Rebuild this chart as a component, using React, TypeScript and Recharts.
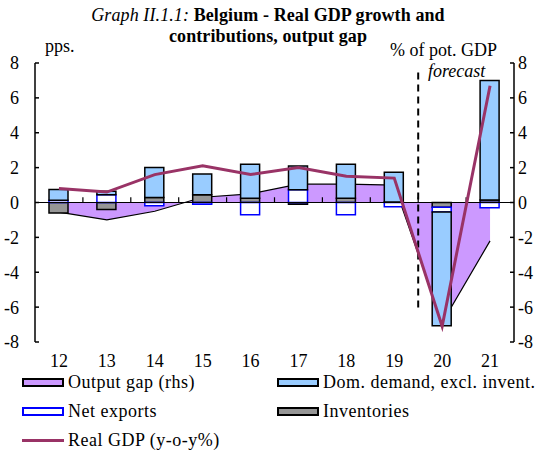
import { ComposedChart, Bar, Line, Area, XAxis, YAxis, ReferenceLine } from 'recharts';

const years = [12, 13, 14, 15, 16, 17, 18, 19, 20, 21];
const domDemand = [0.62, 0.2, 1.72, 1.19, 1.95, 1.37, 1.95, 1.7, -6.52, 6.85];
const inventories = [-0.6, -0.4, 0.29, 0.44, 0.25, -0.1, 0.25, 0.03, -0.27, 0.15];
const netExports = [0.13, 0.45, -0.19, -0.1, -0.7, 0.73, -0.7, -0.25, -0.28, -0.3];
const realGdp = [0.8, 0.6, 1.6, 2.1, 1.6, 2.0, 1.5, 1.4, -7.1, 6.7];
const outputGap = [-0.55, -1.0, -0.5, 0.3, 0.5, 1.05, 1.05, 1.0, -6.9, -2.2];
const yTicks = [-8, -6, -4, -2, 0, 2, 4, 6, 8];
const boundaries = [12.5, 13.5, 14.5, 15.5, 16.5, 17.5, 18.5, 19.5, 20.5];

const FONT = '"Liberation Serif", "Times New Roman", serif';

const data = years.map((y, i) => ({
  year: y,
  domDemand: domDemand[i],
  inventories: inventories[i],
  netExports: netExports[i],
  realGdp: realGdp[i],
  outputGap: outputGap[i],
}));

function Swatch({ fill, stroke }: { fill: string; stroke: string }) {
  return (
    <span style={{ display: 'inline-block', width: 38, height: 5, background: fill, border: `2px solid ${stroke}`, marginRight: 4, verticalAlign: 'middle' }} />
  );
}

export default function App() {
  const tick = { fontSize: 18, fill: '#000', fontFamily: FONT };
  const legendItem = (x: number, y: number, sw: JSX.Element, text: string) => (
    <div style={{ position: 'absolute', left: x, top: y, height: 16, lineHeight: '16px', display: 'flex', alignItems: 'center', fontSize: 18, letterSpacing: 0.5, whiteSpace: 'nowrap' }}>
      {sw}
      <span>{text}</span>
    </div>
  );

  return (
    <div style={{ position: 'absolute', left: 0, top: 0, width: 548, height: 454, fontFamily: FONT, background: '#fff' }}>
      <div style={{ position: 'absolute', left: 0, width: 536, top: 5, textAlign: 'center', fontSize: 18, letterSpacing: 0.1, lineHeight: '21px' }}>
        <span style={{ fontStyle: 'italic' }}>Graph II.1.1: </span>
        <b>Belgium - Real GDP growth and</b>
        <br />
        <b>contributions, output gap</b>
      </div>
      <div style={{ position: 'absolute', left: 45, top: 36, fontSize: 18 }}>pps.</div>
      <div style={{ position: 'absolute', left: 390, top: 40, fontSize: 18 }}>% of pot. GDP</div>
      <div style={{ position: 'absolute', left: 428, top: 61, fontSize: 18, fontStyle: 'italic' }}>forecast</div>

      <ComposedChart
        width={548}
        height={454}
        data={data}
        stackOffset="sign"
        margin={{ top: 63, right: 0, bottom: 72, left: 0 }}
        style={{ position: 'absolute', left: 0, top: 0 }}
      >
        <XAxis
          dataKey="year"
          type="number"
          domain={[11.5, 21.5]}
          ticks={years}
          axisLine={false}
          tickLine={false}
          tickMargin={6}
          height={40}
          tick={tick}
          interval={0}
        />
        <YAxis
          yAxisId="left"
          domain={[-8, 8]}
          ticks={yTicks}
          width={35}
          axisLine={{ stroke: '#000', strokeWidth: 1.5 }}
          tickLine={{ stroke: '#000', strokeWidth: 1.5 }}
          tickSize={-4}
          tickMargin={20}
          tick={tick}
          interval={0}
        />
        <YAxis
          yAxisId="right"
          orientation="right"
          domain={[-8, 8]}
          ticks={yTicks}
          width={34}
          axisLine={{ stroke: '#000', strokeWidth: 1.5 }}
          tickLine={{ stroke: '#000', strokeWidth: 1.5 }}
          tickSize={-4}
          tickMargin={8}
          tick={tick}
          interval={0}
        />
        <Area
          yAxisId="right"
          type="linear"
          dataKey="outputGap"
          fill="#CC99FF"
          fillOpacity={1}
          stroke="#000"
          strokeWidth={1.2}
          isAnimationActive={false}
        />
        <Bar yAxisId="left" dataKey="inventories" stackId="a" barSize={19} fill="#969696" stroke="#000" strokeWidth={1.5} isAnimationActive={false} />
        <Bar yAxisId="left" dataKey="netExports" stackId="a" barSize={19} fill="#fff" stroke="#0000FF" strokeWidth={1.5} isAnimationActive={false} />
        <Bar yAxisId="left" dataKey="domDemand" stackId="a" barSize={19} fill="#99CCFF" stroke="#000" strokeWidth={1.5} isAnimationActive={false} />
        <ReferenceLine yAxisId="left" y={0} stroke="#000" strokeWidth={1.2} />
        {boundaries.map((b) => (
          <ReferenceLine
            key={b}
            yAxisId="left"
            segment={[{ x: b, y: 0 }, { x: b, y: 0.3 }]}
            stroke="#000"
            strokeWidth={1.2}
          />
        ))}
        <ReferenceLine
          yAxisId="left"
          segment={[{ x: 19.5, y: 7.45 }, { x: 19.5, y: -6.15 }]}
          stroke="#000"
          strokeWidth={2}
          strokeDasharray="7 5"
        />
        <Line
          yAxisId="left"
          type="linear"
          dataKey="realGdp"
          stroke="#993366"
          strokeWidth={3}
          dot={false}
          isAnimationActive={false}
        />
      </ComposedChart>

      {legendItem(22, 374, <Swatch fill="#CC99FF" stroke="#000" />, 'Output gap (rhs)')}
      {legendItem(277, 374, <Swatch fill="#99CCFF" stroke="#000" />, 'Dom. demand, excl. invent.')}
      {legendItem(22, 403, <Swatch fill="#fff" stroke="#0000FF" />, 'Net exports')}
      {legendItem(277, 403, <Swatch fill="#969696" stroke="#000" />, 'Inventories')}
      {legendItem(
        22,
        432,
        <span style={{ display: 'inline-block', width: 42, height: 3, background: '#993366', marginRight: 4, verticalAlign: 'middle' }} />,
        'Real GDP (y-o-y%)'
      )}
    </div>
  );
}
